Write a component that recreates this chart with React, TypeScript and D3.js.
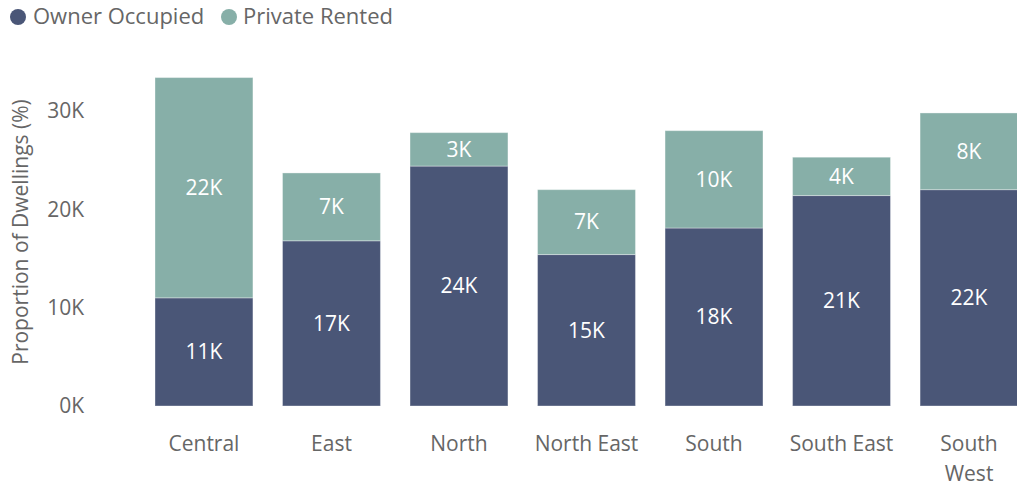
import * as d3 from 'd3';

const regions = ['Central', 'East', 'North', 'North East', 'South', 'South East', 'South West'];
const ownerOccupied = [11000, 16800, 24400, 15400, 18100, 21400, 22000];
const privateRented = [22400, 6900, 3400, 6600, 9900, 3900, 7800];
const yTicks = [0, 10000, 20000, 30000];

const seriesNames = ['Owner Occupied', 'Private Rented'];
const seriesColors = ['#4a5677', '#87afa8'];

const W = 1017;
const H = 487;
const FONT = '"Segoe UI", "Open Sans", "Noto Sans", sans-serif';
const TEXT = '#666666';
const FS = 21;

export default function App() {
  const x = d3.scaleBand<string>().domain(regions).range([155, 1018]).paddingInner(0.232).paddingOuter(0);
  const y = d3.scaleLinear().domain([0, 30000]).range([406, 111]);
  const fmt = (v: number) => `${Math.round(v / 1000)}K`;

  const rows = regions.map((r, i) => ({ region: r, owner: ownerOccupied[i], rented: privateRented[i] }));
  const stack = d3.stack<any>().keys(['owner', 'rented'])(rows);

  return (
    <svg width={W} height={H} style={{ position: 'absolute', left: 0, top: 0, fontFamily: FONT }}>
      <rect width={W} height={H} fill="#fff" />

      {/* legend */}
      <g>
        <circle cx={18} cy={17} r={8} fill={seriesColors[0]} />
        <text x={33} y={24} fontSize={22} fill={TEXT}>{seriesNames[0]}</text>
        <circle cx={229} cy={17} r={8} fill={seriesColors[1]} />
        <text x={243} y={24} fontSize={22} fill={TEXT}>{seriesNames[1]}</text>
      </g>

      {/* y axis */}
      {yTicks.map(t => (
        <text key={t} x={84} y={y(t)} dy="0.35em" textAnchor="end" fontSize={FS} fill={TEXT}>{fmt(t)}</text>
      ))}
      <text transform="translate(28,232) rotate(-90)" textAnchor="middle" fontSize={FS} fill={TEXT}>
        Proportion of Dwellings (%)
      </text>

      {/* bars */}
      {stack.map((layer, si) => (
        <g key={si} fill={seriesColors[si]}>
          {layer.map((d, i) => {
            const x0 = x(regions[i])!;
            const y0 = y(d[1]);
            const h = y(d[0]) - y(d[1]);
            return (
              <g key={i}>
                <rect x={x0} y={y0} width={x.bandwidth()} height={h} stroke="#ffffff" strokeOpacity={0.35} strokeWidth={1} />
                <text x={x0 + x.bandwidth() / 2} y={y0 + h / 2} dy="0.35em" textAnchor="middle" fontSize={FS} fill="#ffffff">
                  {fmt(d[1] - d[0])}
                </text>
              </g>
            );
          })}
        </g>
      ))}

      {/* x axis labels */}
      {regions.map(r => {
        const cx = x(r)! + x.bandwidth() / 2;
        const words = r === 'South West' ? ['South', 'West'] : [r];
        return (
          <text key={r} x={cx} y={451} textAnchor="middle" fontSize={FS} fill={TEXT}>
            {words.map((w, i) => (
              <tspan key={i} x={cx} dy={i === 0 ? 0 : 30}>{w}</tspan>
            ))}
          </text>
        );
      })}
    </svg>
  );
}
